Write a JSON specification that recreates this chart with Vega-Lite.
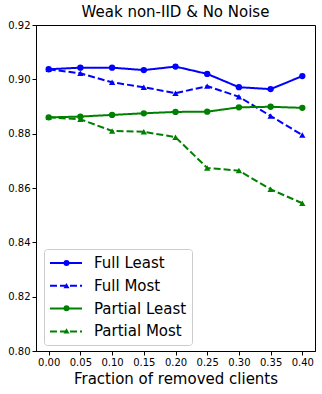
{
  "$schema": "https://vega.github.io/schema/vega-lite/v6.json",
  "width": 279,
  "height": 326,
  "autosize": {"type": "none"},
  "padding": {"left": 36, "top": 25, "right": 7, "bottom": 43},
  "title": {"text": "Weak non-IID & No Noise", "fontSize": 15, "font": "DejaVu Sans", "fontWeight": "normal", "color": "#000", "offset": 0},
  "config": {
    "view": {"stroke": "#000", "strokeWidth": 1},
    "font": "DejaVu Sans",
    "axis": {"grid": false, "domainColor": "#000", "tickColor": "#000", "labelColor": "#000", "labelFontSize": 10, "labelFont": "DejaVu Sans", "tickSize": 4, "titleFont": "DejaVu Sans", "titleFontWeight": "normal", "titleColor": "#000"}
  },
  "data": {"values": [
    {"x": 0.00, "y": 0.9037, "s": "Full Least"},
    {"x": 0.05, "y": 0.9043, "s": "Full Least"},
    {"x": 0.10, "y": 0.9043, "s": "Full Least"},
    {"x": 0.15, "y": 0.9034, "s": "Full Least"},
    {"x": 0.20, "y": 0.9047, "s": "Full Least"},
    {"x": 0.25, "y": 0.9020, "s": "Full Least"},
    {"x": 0.30, "y": 0.8971, "s": "Full Least"},
    {"x": 0.35, "y": 0.8964, "s": "Full Least"},
    {"x": 0.40, "y": 0.9012, "s": "Full Least"},
    {"x": 0.00, "y": 0.9037, "s": "Full Most"},
    {"x": 0.05, "y": 0.9022, "s": "Full Most"},
    {"x": 0.10, "y": 0.8989, "s": "Full Most"},
    {"x": 0.15, "y": 0.8971, "s": "Full Most"},
    {"x": 0.20, "y": 0.8949, "s": "Full Most"},
    {"x": 0.25, "y": 0.8975, "s": "Full Most"},
    {"x": 0.30, "y": 0.8936, "s": "Full Most"},
    {"x": 0.35, "y": 0.8865, "s": "Full Most"},
    {"x": 0.40, "y": 0.8795, "s": "Full Most"},
    {"x": 0.00, "y": 0.8860, "s": "Partial Least"},
    {"x": 0.05, "y": 0.8863, "s": "Partial Least"},
    {"x": 0.10, "y": 0.8869, "s": "Partial Least"},
    {"x": 0.15, "y": 0.8875, "s": "Partial Least"},
    {"x": 0.20, "y": 0.8880, "s": "Partial Least"},
    {"x": 0.25, "y": 0.8881, "s": "Partial Least"},
    {"x": 0.30, "y": 0.8897, "s": "Partial Least"},
    {"x": 0.35, "y": 0.8899, "s": "Partial Least"},
    {"x": 0.40, "y": 0.8895, "s": "Partial Least"},
    {"x": 0.00, "y": 0.8860, "s": "Partial Most"},
    {"x": 0.05, "y": 0.8853, "s": "Partial Most"},
    {"x": 0.10, "y": 0.8810, "s": "Partial Most"},
    {"x": 0.15, "y": 0.8807, "s": "Partial Most"},
    {"x": 0.20, "y": 0.8787, "s": "Partial Most"},
    {"x": 0.25, "y": 0.8674, "s": "Partial Most"},
    {"x": 0.30, "y": 0.8664, "s": "Partial Most"},
    {"x": 0.35, "y": 0.8595, "s": "Partial Most"},
    {"x": 0.40, "y": 0.8544, "s": "Partial Most"}
  ]},
  "encoding": {
    "x": {"field": "x", "type": "quantitative", "scale": {"domain": [-0.02, 0.42], "nice": false, "zero": false},
      "axis": {"values": [0, 0.05, 0.1, 0.15, 0.2, 0.25, 0.3, 0.35, 0.4], "format": ".2f", "title": "Fraction of removed clients", "titleFontSize": 15, "titlePadding": 4}},
    "y": {"field": "y", "type": "quantitative", "scale": {"domain": [0.8, 0.92], "nice": false, "zero": false},
      "axis": {"values": [0.8, 0.82, 0.84, 0.86, 0.88, 0.9, 0.92], "format": ".2f", "title": null}}
  },
  "resolve": {"scale": {"color": "independent", "strokeDash": "independent", "shape": "independent"}, "legend": {"color": "independent", "strokeDash": "independent", "shape": "independent"}},
  "layer": [
    {"mark": {"type": "line", "strokeWidth": 2},
     "encoding": {
       "color": {"field": "s", "type": "nominal", "scale": {"domain": ["Full Least", "Full Most", "Partial Least", "Partial Most"], "range": ["#0000ff", "#0000ff", "#008000", "#008000"]},
         "legend": {"title": null, "orient": "none", "legendX": 8, "legendY": 224, "symbolType": "M-1,0H3", "labelFontSize": 15, "labelColor": "#000", "symbolStrokeWidth": 2, "symbolSize": 256, "strokeColor": "#cccccc", "fillColor": "white", "padding": 5, "cornerRadius": 3, "rowPadding": 5.8, "labelOffset": 27}},
       "strokeDash": {"field": "s", "type": "nominal", "scale": {"domain": ["Full Least", "Full Most", "Partial Least", "Partial Most"], "range": [[1, 0], [7, 3], [1, 0], [7, 3]]},
         "legend": {"title": null, "orient": "none", "legendX": 8, "legendY": 224}}}},
    {"mark": {"type": "point", "filled": true, "size": 40, "opacity": 1},
     "encoding": {
       "color": {"field": "s", "type": "nominal", "scale": {"domain": ["Full Least", "Full Most", "Partial Least", "Partial Most"], "range": ["#0000ff", "#0000ff", "#008000", "#008000"]},
         "legend": {"title": null, "orient": "none", "legendX": 18, "legendY": 225.5, "labelFontSize": 15, "labelColor": "transparent", "symbolSize": 36, "symbolStrokeWidth": 0, "strokeColor": "transparent", "fillColor": "transparent", "padding": 5, "rowPadding": 6.6, "labelOffset": 10}},
       "shape": {"field": "s", "type": "nominal", "scale": {"domain": ["Full Least", "Full Most", "Partial Least", "Partial Most"], "range": ["circle", "triangle-up", "circle", "triangle-up"]},
         "legend": {"title": null, "orient": "none", "legendX": 18, "legendY": 225.5}}}}
  ]
}
